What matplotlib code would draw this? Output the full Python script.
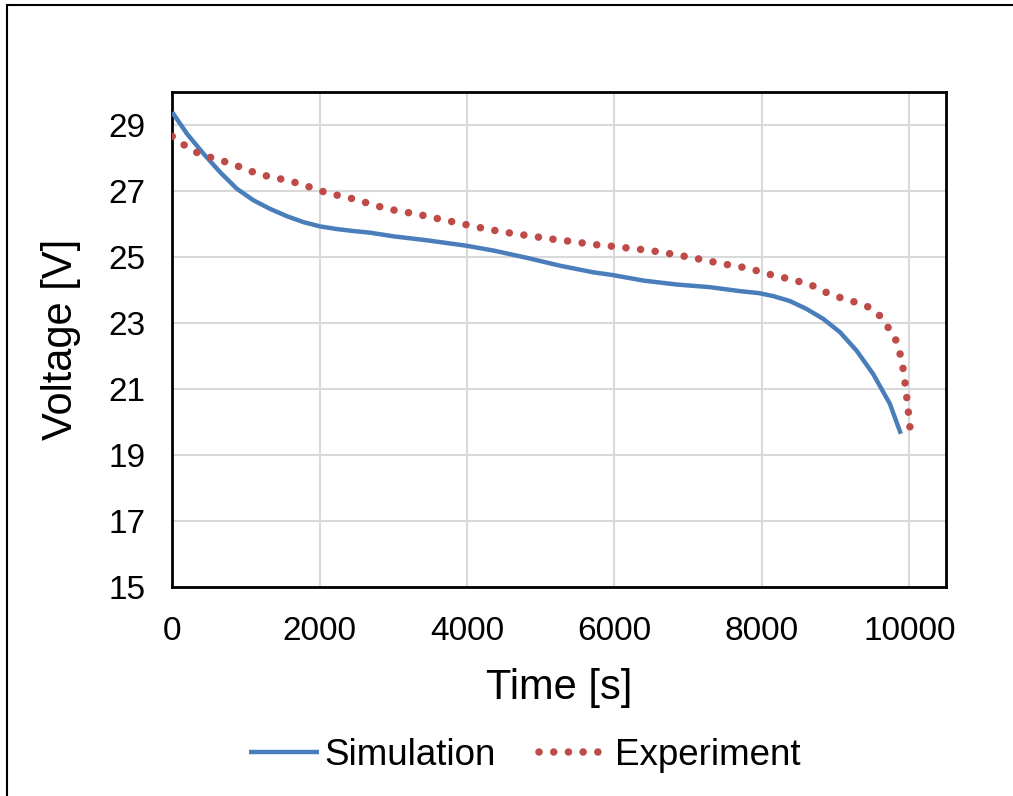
import matplotlib
matplotlib.use("Agg")
import matplotlib.pyplot as plt
from matplotlib.patches import Rectangle

plt.rcParams['font.family'] = ['Liberation Sans', 'DejaVu Sans']

# Simulation data
sim_t = [0, 199, 425, 651, 877, 1103, 1329, 1555, 1780, 2007, 2234, 2459, 2685,
         3001, 3453, 3977, 4357, 4809, 5261, 5713, 5966, 6392, 6844, 7295, 7702,
         7959, 8154, 8380, 8606, 8832, 9058, 9284, 9510, 9736, 9885]
sim_v = [29.38, 28.73, 28.12, 27.56, 27.06, 26.71, 26.45, 26.23, 26.05, 25.92, 25.84,
         25.78, 25.73, 25.62, 25.5, 25.34, 25.19, 24.97, 24.73, 24.53, 24.45, 24.28,
         24.16, 24.08, 23.96, 23.9, 23.81, 23.66, 23.42, 23.12, 22.72, 22.16, 21.45,
         20.55, 19.64]

# Experiment data
exp_t = [0, 172, 348, 537, 732, 922, 1117, 1311, 1510, 1703, 1898, 2092, 2288, 2486,
         2685, 2879, 3078, 3278, 3476, 3675, 3874, 4072, 4271, 4468, 4669, 4872, 5071,
         5275, 5478, 5677, 5881, 6084, 6287, 6486, 6685, 6888, 7087, 7286, 7485, 7684,
         7882, 8081, 8275, 8475, 8674, 8850, 9040, 9233, 9428, 9590, 9713, 9817, 9876,
         9917, 9944, 9967, 9990, 10011]
exp_v = [28.65, 28.37, 28.14, 28.0, 27.87, 27.72, 27.55, 27.43, 27.34, 27.23, 27.09,
         26.94, 26.84, 26.74, 26.6, 26.48, 26.38, 26.31, 26.22, 26.12, 26.03, 25.93,
         25.84, 25.76, 25.69, 25.63, 25.56, 25.5, 25.45, 25.38, 25.34, 25.29, 25.24,
         25.19, 25.12, 25.04, 24.96, 24.87, 24.78, 24.71, 24.61, 24.48, 24.38, 24.27,
         24.14, 23.94, 23.78, 23.65, 23.5, 23.24, 22.86, 22.48, 22.05, 21.6, 21.15,
         20.72, 20.25, 19.8]

x_ticks = [0, 2000, 4000, 6000, 8000, 10000]
y_ticks = [15, 17, 19, 21, 23, 25, 27, 29]

fig = plt.figure(figsize=(10.13, 7.96), dpi=100)
fig.patches.append(Rectangle((0.007, -0.01), 1.1, 1.004, transform=fig.transFigure,
                             fill=False, edgecolor='black', linewidth=1.5, zorder=10))
ax = fig.add_axes([0.170, 0.2626, 0.764, 0.6222])

ax.plot(sim_t, sim_v, color='#4A7EBB', linewidth=3.2, label='Simulation', zorder=3,
        solid_capstyle='butt', solid_joinstyle='round')
ax.plot(exp_t, exp_v, color='#BE4B48', linewidth=5.4, linestyle=(0, (0.01, 1.95)),
        dash_capstyle='round', label='Experiment', zorder=4)

ax.set_xlim(0, 10500)
ax.set_ylim(15, 30)
ax.set_xticks(x_ticks)
ax.set_yticks(y_ticks)
ax.grid(True, color='#D9D9D9', linewidth=1.5)
ax.set_axisbelow(True)
for s in ax.spines.values():
    s.set_linewidth(2.0)
    s.set_color('black')
ax.tick_params(axis='x', length=0, labelsize=24, pad=21)
ax.tick_params(axis='y', length=0, labelsize=24, pad=19)
ax.set_xlabel('Time [s]', fontsize=30, labelpad=15)
ax.set_ylabel('Voltage [V]', fontsize=30, labelpad=20)

leg = fig.legend(loc='center', bbox_to_anchor=(0.518, 0.051), ncol=2, frameon=False,
                 fontsize=26.5, handlelength=1.9, columnspacing=1.17, handletextpad=0.16)

fig.savefig('out.png', dpi=100)
